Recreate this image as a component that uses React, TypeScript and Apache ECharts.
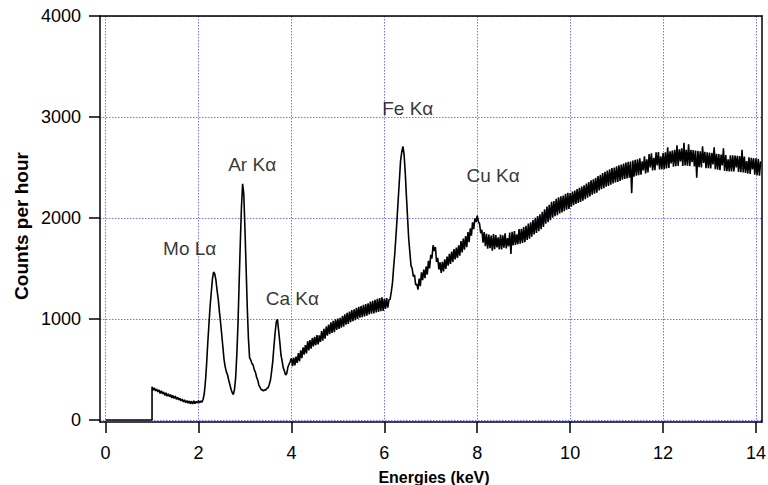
import { useEffect, useRef } from "react";
import * as echarts from "echarts";

// Axis ticks
const ENERGY_TICKS = [0, 2, 4, 6, 8, 10, 12, 14];
const COUNT_TICKS = [0, 1000, 2000, 3000, 4000];

// Spectrum: nothing recorded below the discriminator threshold, then one
// value per 0.025 keV channel starting at the threshold (20 channels per row).
const THRESHOLD_KEV = 1.0;
const KEV_PER_CHANNEL = 0.025;
const COUNTS = [
  328, 296, 318, 288, 305, 279, 298, 262, 289, 258, 278, 242, 270, 236, 258, 231, 252, 219, 243, 214, // 1.0
  236, 205, 224, 198, 215, 190, 206, 178, 200, 171, 192, 166, 188, 160, 186, 158, 190, 162, 184, 168, // 1.5
  192, 170, 188, 176, 205, 262, 384, 556, 765, 948, 1126, 1262, 1394, 1465, 1446, 1386, 1284, 1196, 1076, 968, // 2.0
  846, 724, 598, 526, 476, 448, 396, 352, 304, 272, 252, 302, 418, 646, 944, 1356, 1748, 2108, 2338, 2240, // 2.5
  1896, 1506, 1114, 806, 616, 596, 558, 546, 498, 474, 426, 394, 346, 324, 300, 298, 288, 300, 296, 314, // 3.0
  318, 354, 396, 484, 586, 734, 866, 972, 996, 884, 774, 646, 584, 516, 484, 446, 460, 524, 552, 578, // 3.5
  612, 532, 618, 540, 628, 566, 662, 580, 690, 612, 718, 648, 742, 660, 780, 690, 790, 706, 812, 728, // 4.0
  822, 740, 840, 748, 838, 772, 880, 786, 902, 806, 926, 834, 944, 850, 968, 862, 982, 870, 996, 892, // 4.5
  1004, 902, 1012, 914, 1030, 924, 1046, 944, 1060, 950, 1074, 968, 1088, 978, 1096, 988, 1110, 1000, 1120, 1012, // 5.0
  1128, 1018, 1140, 1026, 1148, 1034, 1156, 1046, 1172, 1052, 1180, 1056, 1190, 1064, 1200, 1070, 1206, 1078, 1214, 1080, // 5.5
  1200, 1100, 1206, 1112, 1190, 1196, 1268, 1352, 1508, 1644, 1816, 1996, 2188, 2376, 2566, 2650, 2708, 2632, 2456, 2224, // 6.0
  2010, 1794, 1660, 1528, 1498, 1420, 1436, 1338, 1346, 1290, 1400, 1326, 1462, 1384, 1490, 1404, 1520, 1440, 1576, 1500, // 6.5
  1636, 1600, 1730, 1672, 1712, 1566, 1606, 1490, 1560, 1456, 1566, 1472, 1590, 1496, 1618, 1528, 1644, 1546, 1668, 1566, // 7.0
  1692, 1590, 1706, 1604, 1730, 1626, 1772, 1658, 1796, 1686, 1822, 1710, 1860, 1760, 1896, 1826, 1956, 1890, 1996, 1960, // 7.5
  2024, 1964, 1944, 1850, 1884, 1756, 1860, 1722, 1844, 1696, 1836, 1700, 1826, 1676, 1840, 1690, 1830, 1708, 1808, 1690, // 8.0
  1836, 1688, 1828, 1706, 1848, 1698, 1800, 1720, 1856, 1644, 1864, 1728, 1870, 1734, 1838, 1740, 1890, 1746, 1894, 1754, // 8.5
  1910, 1760, 1922, 1782, 1944, 1794, 1958, 1816, 1980, 1838, 2002, 1852, 2020, 1870, 2036, 1890, 2062, 1912, 2086, 1944, // 9.0
  2112, 1958, 2130, 1978, 2160, 2002, 2168, 2018, 2190, 2028, 2204, 2044, 2214, 2056, 2222, 2068, 2240, 2082, 2250, 2090, // 9.5
  2246, 2112, 2262, 2126, 2272, 2140, 2286, 2148, 2298, 2160, 2310, 2172, 2324, 2186, 2340, 2202, 2356, 2214, 2372, 2230, // 10.0
  2384, 2240, 2398, 2250, 2414, 2272, 2428, 2284, 2446, 2296, 2458, 2310, 2470, 2318, 2482, 2330, 2494, 2342, 2500, 2352, // 10.5
  2512, 2358, 2522, 2366, 2530, 2380, 2540, 2386, 2548, 2392, 2556, 2398, 2560, 2246, 2568, 2410, 2576, 2418, 2582, 2424, // 11.0
  2590, 2428, 2560, 2470, 2610, 2442, 2582, 2450, 2634, 2500, 2640, 2470, 2596, 2474, 2650, 2520, 2652, 2480, 2610, 2482, // 11.5
  2642, 2482, 2650, 2490, 2700, 2496, 2660, 2540, 2668, 2508, 2674, 2512, 2720, 2516, 2680, 2560, 2690, 2516, 2744, 2520, // 12.0
  2676, 2518, 2730, 2514, 2676, 2552, 2672, 2510, 2668, 2400, 2664, 2502, 2660, 2500, 2710, 2546, 2656, 2494, 2650, 2492, // 12.5
  2648, 2490, 2644, 2530, 2700, 2482, 2636, 2478, 2632, 2474, 2628, 2520, 2690, 2466, 2624, 2464, 2580, 2462, 2620, 2460, // 13.0
  2620, 2460, 2618, 2500, 2616, 2456, 2614, 2454, 2676, 2452, 2608, 2446, 2564, 2440, 2600, 2436, 2596, 2480, 2592, 2428, // 13.5
  2590, 2424, 2586, 2420, 2560, // 14.0
];

// Emission-line annotations, placed in data coordinates
const PEAK_NAMES = ["Mo Lα", "Ar Kα", "Ca Kα", "Fe Kα", "Cu Kα"];
const PEAK_LABEL_KEV = [1.81, 3.155, 4.02, 6.505, 8.34];
const PEAK_LABEL_COUNTS = [1693, 2525, 1198, 3089, 2416];

const FONT = "'Liberation Sans', Arial, Helvetica, sans-serif";
const GRID_COLOR = "#7373ff";
const X_RANGE = { min: -0.12, max: 14.13 };
const Y_RANGE = { min: -20, max: 4000 };

const frameLine = { show: true, onZero: false, lineStyle: { color: "#000", width: 1.5 } };

export default function App() {
  const ref = useRef<HTMLDivElement>(null);

  useEffect(() => {
    if (!ref.current) return;
    const chart = echarts.init(ref.current, undefined, { renderer: "svg" });

    const spectrum: [number, number][] = [
      [0, 0],
      [THRESHOLD_KEV, 0],
      ...COUNTS.map(
        (c, i) =>
          [+(THRESHOLD_KEV + i * KEV_PER_CHANNEL).toFixed(3), c] as [number, number]
      ),
    ];

    const labels = PEAK_NAMES.map((name, i) => ({
      value: [PEAK_LABEL_KEV[i], PEAK_LABEL_COUNTS[i]],
      name,
    }));

    const tickLabel = {
      fontFamily: FONT,
      fontSize: 18,
      color: "#000",
      formatter: (v: number) => String(v),
    };
    const gridLine = {
      show: true,
      lineStyle: { color: GRID_COLOR, type: [1.5, 1.5], width: 1 },
    };

    chart.setOption({
      animation: false,
      backgroundColor: "#ffffff",
      grid: {
        left: 100,
        right: 6,
        top: 16,
        bottom: 63,
        show: false,
        containLabel: false,
        outerBoundsMode: "none",
      },
      xAxis: [
        {
          type: "value",
          ...X_RANGE,
          axisLine: frameLine,
          axisTick: {
            inside: false,
            length: 11,
            customValues: ENERGY_TICKS,
            lineStyle: { color: "#000", width: 1.5 },
          },
          axisLabel: { ...tickLabel, customValues: ENERGY_TICKS, margin: 22 },
          splitLine: gridLine,
        },
        {
          type: "value",
          position: "top",
          ...X_RANGE,
          axisLine: frameLine,
          axisTick: { show: false },
          axisLabel: { show: false },
          splitLine: { show: false },
        },
      ],
      yAxis: [
        {
          type: "value",
          ...Y_RANGE,
          axisLine: frameLine,
          axisTick: {
            inside: false,
            length: 11,
            customValues: COUNT_TICKS,
            lineStyle: { color: "#000", width: 1.5 },
          },
          axisLabel: { ...tickLabel, customValues: COUNT_TICKS, margin: 19 },
          splitLine: gridLine,
        },
        {
          type: "value",
          position: "right",
          ...Y_RANGE,
          axisLine: frameLine,
          axisTick: { show: false },
          axisLabel: { show: false },
          splitLine: { show: false },
        },
      ],
      graphic: [
        {
          type: "text",
          x: 21,
          y: 226,
          rotation: Math.PI / 2,
          style: {
            text: "Counts per hour",
            font: `bold 19px ${FONT}`,
            fill: "#000",
            align: "center",
            verticalAlign: "middle",
          },
        },
        {
          type: "text",
          x: 434,
          y: 477,
          style: {
            text: "Energies (keV)",
            font: `bold 16px ${FONT}`,
            fill: "#000",
            align: "center",
            verticalAlign: "middle",
          },
        },
      ],
      series: [
        {
          type: "line",
          data: spectrum,
          showSymbol: false,
          symbol: "none",
          clip: true,
          lineStyle: { color: "#000", width: 1.6 },
          z: 3,
        },
        {
          type: "scatter",
          data: labels,
          symbolSize: 1,
          itemStyle: { color: "transparent" },
          silent: true,
          z: 4,
          label: {
            show: true,
            position: "inside",
            formatter: (p: any) => p.name,
            fontFamily: FONT,
            fontSize: 19,
            color: "#000",
          },
        },
      ],
    });

    return () => chart.dispose();
  }, []);

  return (
    <div
      ref={ref}
      style={{ position: "fixed", left: 0, top: 0, width: 768, height: 485 }}
    />
  );
}
